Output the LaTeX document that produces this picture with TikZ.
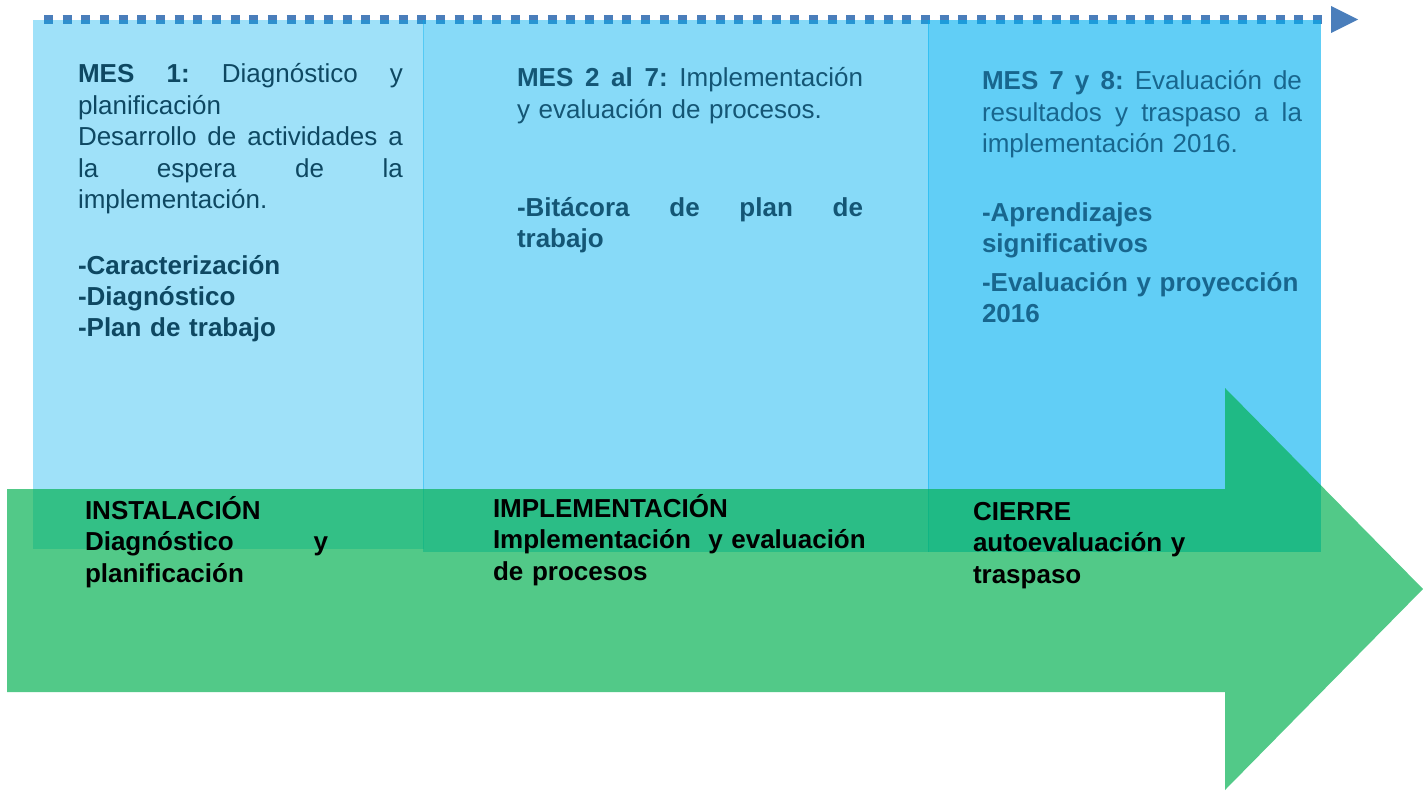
\documentclass[tikz,border=0pt]{standalone}
\usepackage{fontspec}
\setmainfont{Liberation Sans}
\definecolor{sky}{RGB}{0,176,240}
\definecolor{officegreen}{RGB}{0,176,80}
\definecolor{dotblue}{RGB}{74,126,187}
\definecolor{txtA}{RGB}{14,72,98}
\definecolor{txtB}{RGB}{20,86,117}
\definecolor{txtC}{RGB}{24,102,142}
\newcommand{\jline}[1]{\leavevmode\hbox to \hsize{#1}}
\newcommand{\topstrut}{\rule{0pt}{26pt}}
\begin{document}
\begin{tikzpicture}[x=1pt,y=-1pt,
  phasetext/.style={anchor=north west, inner sep=0pt, outer sep=0pt, align=left,
    font=\fontsize{26}{31.5}\selectfont},
  listtext/.style={phasetext, font=\fontsize{26}{31}\selectfont\bfseries},
  bottomtext/.style={phasetext, text=black, font=\fontsize{26}{31.5}\selectfont\bfseries},
  dotline/.style={draw=dotblue, line width=9pt, dash pattern=on 9pt off 9.66pt},
  column/.style={fill=sky, draw=none},
  bigarrow/.style={fill=officegreen, fill opacity=0.68, draw=none}]
\useasboundingbox (0,0) rectangle (1423,791);

% dotted timeline with arrowhead
\coordinate (dstart) at (44,19.5);
\coordinate (dend) at (1322,19.5);
\draw[dotline] (dstart) -- (dend);
\fill[dotblue] (1331,6) -- (1358,19.5) -- (1331,33) -- cycle;

% columns
\fill[column, fill opacity=0.375] (33,20) rectangle (424,549);
\fill[column, fill opacity=0.47] (423,20) rectangle (929,552);
\fill[column, fill opacity=0.62] (928,20) rectangle (1321,552);

% big green arrow
\fill[bigarrow] (7,489) -- (1225,489) -- (1225,388) -- (1423,589)
  -- (1225,790) -- (1225,692) -- (7,692) -- cycle;

% column 1
\node[phasetext, text=txtA, text width=325pt] (m1) at (78,57) {%
  \jline{\topstrut\textbf{MES}\hfill\textbf{1:}\hfill Diagnóstico\hfill y}\\
  planificación\\
  \jline{Desarrollo\hfill de\hfill actividades\hfill a}\\
  \jline{la\hfill espera\hfill de\hfill la}\\
  implementación.};
\node[listtext, text=txtA, text width=325pt] (l1) at (78,249) {%
  \topstrut-Caracterización\\
  -Diagnóstico\\
  -Plan de trabajo};

% column 2
\node[phasetext, text=txtB, text width=346pt] (m2) at (517,61) {%
  \jline{\topstrut\textbf{MES}\hfill\textbf{2}\hfill\textbf{al}\hfill\textbf{7:}\hfill Implementación}\\
  y evaluación de procesos.};
\node[listtext, text=txtB, text width=346pt] (l2) at (517,191) {%
  \jline{\topstrut-Bitácora\hfill de\hfill plan\hfill de}\\
  trabajo};

% column 3
\node[phasetext, text=txtC, text width=320pt] (m3) at (982,64) {%
  \jline{\topstrut\textbf{MES}\hfill\textbf{7}\hfill\textbf{y}\hfill\textbf{8:}\hfill Evaluación\hfill de}\\
  \jline{resultados\hfill y\hfill traspaso\hfill a\hfill la}\\
  implementación 2016.};
\node[listtext, text=txtC, text width=320pt] (l3a) at (982,196) {%
  \topstrut-Aprendizajes\\
  significativos};
\node[listtext, text=txtC, text width=320pt] (l3b) at (982,266) {%
  \topstrut-Evaluación y proyección\\
  2016};

% bottom labels
\node[bottomtext, text width=243pt] (b1) at (85,493) {%
  \topstrut INSTALACIÓN\\
  \jline{Diagnóstico\hfill y}\\
  planificación};
\node[bottomtext, text width=380pt] (b2) at (493,491) {%
  \topstrut IMPLEMENTACIÓN\\
  Implementación\ \ y evaluación\\
  de procesos};
\node[bottomtext, text width=300pt] (b3) at (973,494) {%
  \topstrut CIERRE\\
  autoevaluación y\\
  traspaso};
\end{tikzpicture}
\end{document}
